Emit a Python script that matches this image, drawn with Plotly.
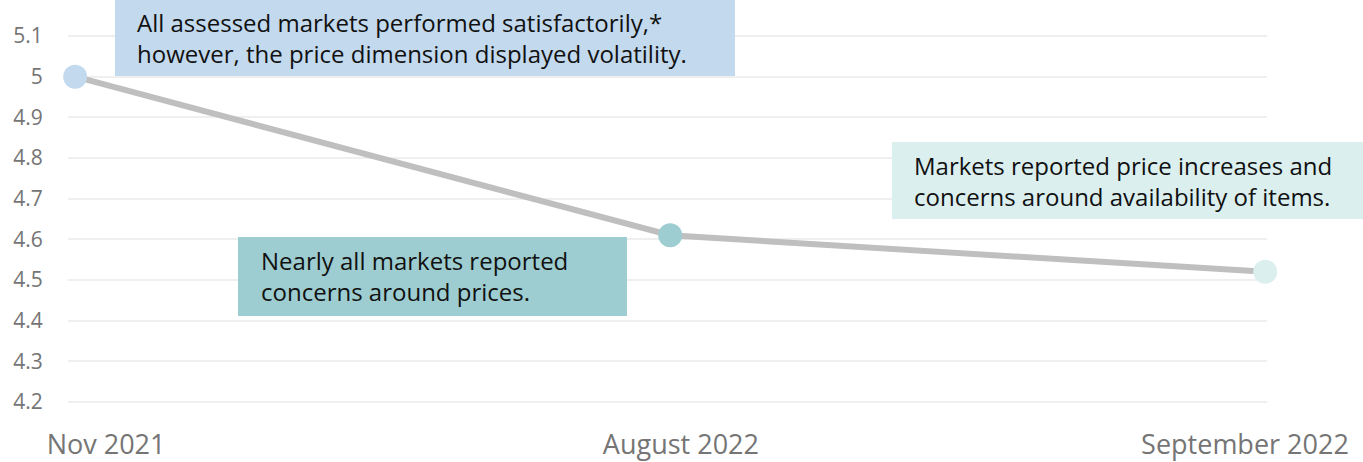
import plotly.graph_objects as go

categories = ["Nov 2021", "August 2022", "September 2022"]
scores = [5.0, 4.61, 4.52]
point_colors = ["#c3d9ee", "#9dcdd0", "#dcefef"]
y_ticks = [4.2, 4.3, 4.4, 4.5, 4.6, 4.7, 4.8, 4.9, 5.0, 5.1]
y_tick_labels = ["4.2", "4.3", "4.4", "4.5", "4.6", "4.7", "4.8", "4.9", "5", "5.1"]
notes = [
    "All assessed markets performed satisfactorily,*<br>however, the price dimension displayed volatility.",
    "Nearly all markets reported<br>concerns around prices.",
    "Markets reported price increases and<br>concerns around availability of items.",
]

xs = list(range(len(categories)))
# small horizontal offsets of the category labels relative to the points (style)
label_offsets = [0.052, 0.018, -0.034]
label_pos = [x + o for x, o in zip(xs, label_offsets)]

fig = go.Figure()
fig.add_trace(go.Scatter(
    x=xs, y=scores, mode="lines+markers",
    line=dict(color="#bfbfbf", width=6),
    marker=dict(size=24, color=point_colors, line=dict(width=0)),
    cliponaxis=False, hoverinfo="skip", showlegend=False,
))

# note boxes in paper coordinates: x0, x1, y0, y1, text-x, text-y
boxes = [
    dict(x0=0.0392, x1=0.5563, y0=0.8824, y1=1.0856, tx=0.0559, ty=0.984, bg="#c3d9ee"),
    dict(x0=0.1418, x1=0.4662, y0=0.2406, y1=0.4519, tx=0.1593, ty=0.3463, bg="#9dcdd0"),
    dict(x0=0.6872, x1=1.0801, y0=0.5000, y1=0.7059, tx=0.7039, ty=0.6029, bg="#dcefef"),
]
for b, t in zip(boxes, notes):
    fig.add_shape(
        type="rect", xref="paper", yref="paper",
        x0=b["x0"], x1=b["x1"], y0=b["y0"], y1=b["y1"],
        fillcolor=b["bg"], line=dict(width=0), layer="above",
    )
    fig.add_annotation(
        x=b["tx"], y=b["ty"], xref="paper", yref="paper",
        xanchor="left", yanchor="middle",
        text=t, showarrow=False, align="left",
        font=dict(family="Open Sans", size=24, color="#111111"),
    )

fig.update_layout(
    width=1363, height=462,
    margin=dict(l=68, r=96, t=32, b=56, autoexpand=False),
    paper_bgcolor="white", plot_bgcolor="white",
    font=dict(family="Open Sans"),
    xaxis=dict(
        range=[-0.012, 2.003], tickvals=label_pos, ticktext=categories,
        showgrid=False, zeroline=False, showline=False, automargin=False,
        ticks="outside", ticklen=15, tickcolor="rgba(0,0,0,0)",
        tickfont=dict(size=27, color="#757575"),
    ),
    yaxis=dict(
        range=[4.19, 5.11], tickvals=y_ticks, ticktext=y_tick_labels,
        showgrid=True, gridcolor="#efefef", gridwidth=2,
        zeroline=False, showline=False, automargin=False,
        ticks="outside", ticklen=20, tickcolor="rgba(0,0,0,0)",
        tickfont=dict(size=21, color="#757575"),
    ),
)

fig.write_html(
    "out.html",
    config={"displayModeBar": False},
    post_script="document.body.style.margin='0';document.body.style.overflow='hidden';",
)
